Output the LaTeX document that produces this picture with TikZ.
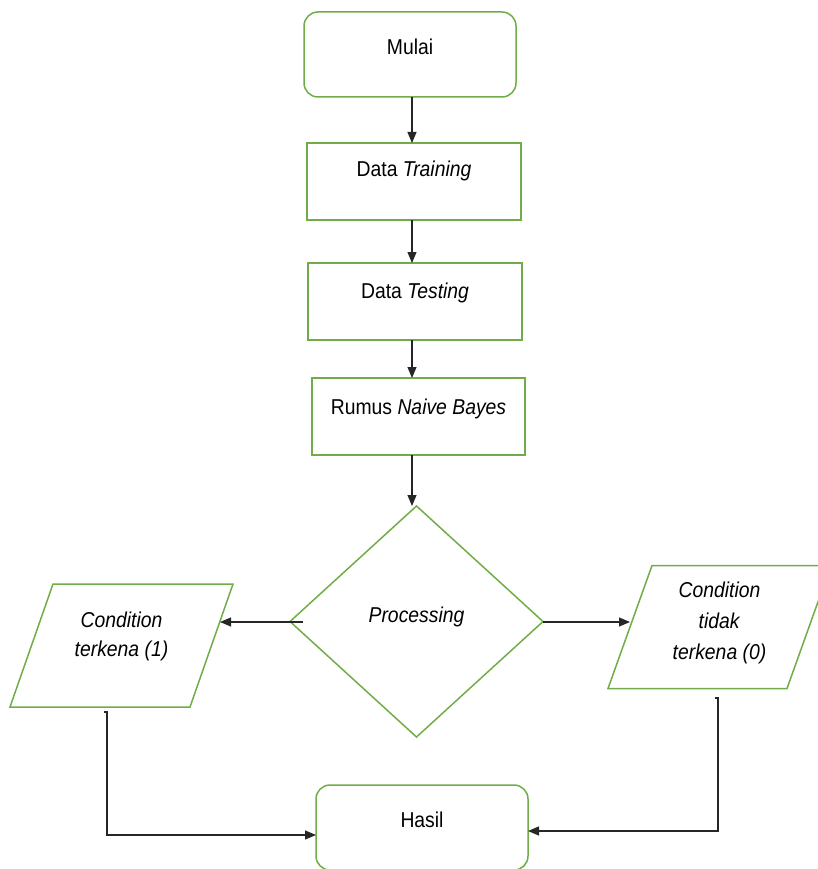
\documentclass[tikz,border=0pt]{standalone}
\usepackage{fontspec}
\setmainfont[FakeStretch=0.9]{Liberation Sans}
\usetikzlibrary{shapes.geometric,arrows.meta,calc}
\definecolor{flowgreen}{HTML}{70AD47}
\newcommand\rtext[2]{\raisebox{#1}[0pt][0pt]{#2}}
\begin{document}
\begin{tikzpicture}[x=1pt,y=-1pt,
  font=\fontsize{21.5}{30}\selectfont,
  greenline/.style={draw=flowgreen, line width=1.5pt, inner sep=0pt, outer sep=0pt},
  roundbox/.style={greenline, rectangle, rounded corners=14pt, minimum width=212pt, minimum height=85pt},
  procbox/.style={greenline, rectangle, minimum width=214pt, minimum height=77pt},
  decision/.style={greenline, diamond, minimum width=253pt, minimum height=231pt},
  iobox/.style={rectangle, inner sep=0pt, outer sep=0pt, minimum width=223pt, minimum height=123pt},
  arr/.style={-{Triangle[length=11pt,width=9pt]}, line width=1.1pt, draw=black!85}]
\useasboundingbox (0,0) rectangle (817,869);

\node[roundbox] (mulai) at (410,54.5) {\rtext{-0.5pt}{Mulai}};
\node[procbox] (training) at (414,181.5) {\rtext{4.5pt}{Data \textit{Training}}};
\node[procbox] (testing) at (415,301.5) {\rtext{3.5pt}{Data \textit{Testing}}};
\node[procbox, minimum width=213pt] (rumus) at (418.5,416.5) {\rtext{2.5pt}{Rumus \textit{Naive Bayes}}};
\node[decision] (proc) at (416.5,621.5) {\rtext{-0.5pt}{\textit{Processing}}};
\node[iobox] (kena) at (121.5,645.5) {\rtext{18.5pt}{\renewcommand\arraystretch{0.97}\begin{tabular}[t]{@{}c@{}}\textit{Condition}\\ \textit{terkena (1)}\end{tabular}}};
\node[iobox] (tidak) at (719.5,627) {\rtext{30pt}{\renewcommand\arraystretch{1.04}\begin{tabular}[t]{@{}c@{}}\textit{Condition}\\ \textit{tidak}\\ \textit{terkena (0)}\end{tabular}}};
\node[roundbox] (hasil) at (422,827.5) {\rtext{0.5pt}{Hasil}};

\draw[greenline] ($(kena.north west)+(43,0)$) -- (kena.north east) -- ($(kena.south east)+(-43,0)$) -- (kena.south west) -- cycle;
\draw[greenline] ($(tidak.north west)+(44,0)$) -- (tidak.north east) -- ($(tidak.south east)+(-44,0)$) -- (tidak.south west) -- cycle;

\coordinate (ax) at (412,0);
\draw[arr] (mulai.south -| ax) -- (training.north -| ax);
\draw[arr] (training.south -| ax) -- (testing.north -| ax);
\draw[arr] (testing.south -| ax) -- (rumus.north -| ax);
\draw[arr] (rumus.south -| ax) -- (proc.north -| ax);

\coordinate (lt) at (220,622);
\coordinate (rt) at (630,622);
\draw[arr] ($(proc.west)+(13,0.5)$) -- (lt);
\draw[arr] ($(proc.east)+(0,0.5)$) -- (rt);

\coordinate (lb) at (107,712);
\coordinate (lc) at (107,835);
\draw[arr] ($(lb)+(-3,0)$) -- (lb) -- (lc) -- (lc -| hasil.west);
\coordinate (rb) at (718,698);
\coordinate (rc) at (718,831);
\draw[arr] ($(rb)+(-3,0)$) -- (rb) -- (rc) -- (rc -| hasil.east);
\end{tikzpicture}
\end{document}
